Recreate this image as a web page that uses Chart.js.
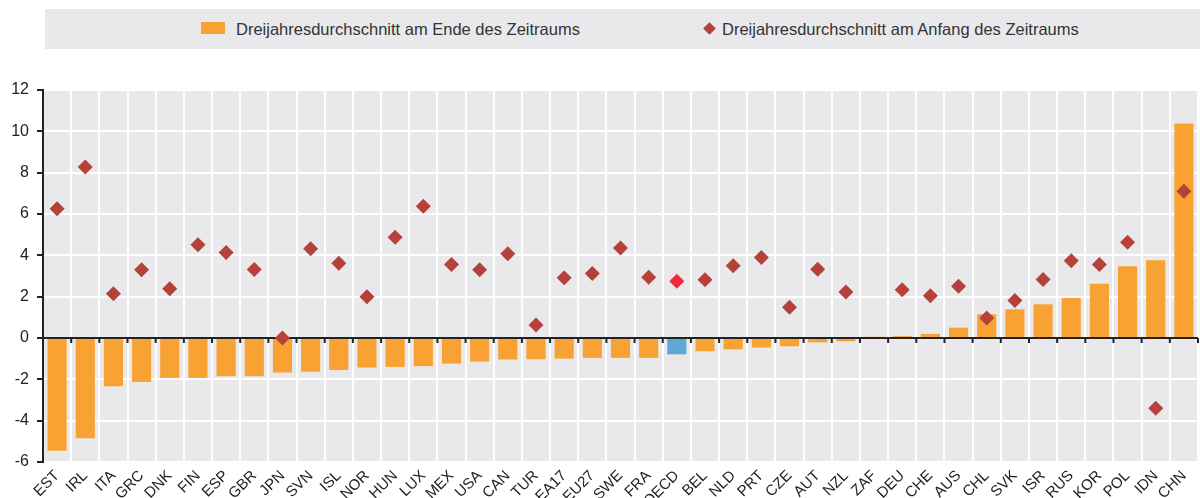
<!DOCTYPE html>
<html><head><meta charset="utf-8">
<script src="https://cdn.jsdelivr.net/npm/chart.js@4.4.1/dist/chart.umd.min.js"></script>
<style>
html,body{margin:0;padding:0;background:#fff;}
#wrap{position:relative;width:1200px;height:498px;overflow:hidden;}
#c{position:absolute;left:0;top:0;}
#legend{position:absolute;left:45px;top:9px;width:1155px;height:40px;background:#e9e9ec;font-family:"Liberation Sans",Arial,sans-serif;font-size:16.5px;color:#333;z-index:2;}
.item{position:absolute;top:0;height:40px;line-height:40px;white-space:nowrap;}
.sq{position:absolute;left:156px;top:13px;width:24px;height:12px;background:#f7a232;}
.dm{position:absolute;left:660px;top:15px;width:9px;height:9px;background:#b5413a;transform:rotate(45deg);}
</style>
</head><body>
<div id="wrap">
<canvas id="c" width="1200" height="498"></canvas>
<div id="legend">
  <div class="sq"></div><div class="item" style="left:191px">Dreijahresdurchschnitt am Ende des Zeitraums</div>
  <div class="dm"></div><div class="item" style="left:677px">Dreijahresdurchschnitt am Anfang des Zeitraums</div>
</div>
</div>
<script>
const categories = ["EST","IRL","ITA","GRC","DNK","FIN","ESP","GBR","JPN","SVN","ISL","NOR","HUN","LUX","MEX","USA","CAN","TUR","EA17","EU27","SWE","FRA","OECD","BEL","NLD","PRT","CZE","AUT","NZL","ZAF","DEU","CHE","AUS","CHL","SVK","ISR","RUS","KOR","POL","IDN","CHN"];
const endAverage = [-5.45,-4.85,-2.33,-2.13,-1.93,-1.93,-1.85,-1.85,-1.67,-1.63,-1.55,-1.43,-1.40,-1.36,-1.24,-1.14,-1.04,-1.03,-1.00,-0.96,-0.96,-0.96,-0.79,-0.64,-0.55,-0.46,-0.40,-0.21,-0.16,0.06,0.09,0.20,0.50,1.15,1.39,1.63,1.94,2.62,3.47,3.76,10.38];
const startAverage = [6.26,8.28,2.14,3.30,2.38,4.51,4.14,3.32,0.00,4.32,3.62,2.00,4.88,6.37,3.56,3.30,4.08,0.63,2.91,3.12,4.35,2.94,2.75,2.82,3.50,3.90,1.49,3.33,2.23,null,2.34,2.05,2.50,0.97,1.81,2.83,3.74,3.56,4.63,-3.40,7.10];
const yMin = -6, yMax = 12, yStep = 2;
const highlight = "OECD";

const barColors = categories.map(c => c === highlight ? "#5fa7d4" : "#f7a232");
const pointColors = categories.map(c => c === highlight ? "#ee2a38" : "#b5413a");
const FONT = '"Liberation Sans", Arial, sans-serif';

const bgPlugin = {
  id: "bg",
  beforeDraw(chart) {
    const {ctx, chartArea:a} = chart;
    ctx.save(); ctx.fillStyle = "#e9e9ec";
    ctx.fillRect(a.left, a.top, a.right - a.left, a.bottom - a.top);
    ctx.restore();
  },
  afterDraw(chart) {
    const {ctx} = chart;
    const x = chart.scales.x, y = chart.scales.y;
    const y0 = y.getPixelForValue(0);
    ctx.save(); ctx.strokeStyle = "#222"; ctx.lineWidth = 2;
    const n = categories.length;
    const step = x.getPixelForTick(1) - x.getPixelForTick(0);
    for (let i = 0; i <= n; i++) {
      const px = (i < n ? x.getPixelForTick(i) : x.getPixelForTick(n-1) + step) - step / 2;
      ctx.beginPath(); ctx.moveTo(px, y0); ctx.lineTo(px, y0 + 5); ctx.stroke();
    }
    ctx.restore();
  }
};

new Chart(document.getElementById("c"), {
  data: {
    labels: categories,
    datasets: [
      { type: "line", label: "Dreijahresdurchschnitt am Anfang des Zeitraums", data: startAverage,
        showLine: false, pointStyle: "rectRot", pointRadius: 7.5, pointBorderWidth: 0,
        pointBackgroundColor: pointColors, order: 0 },
      { type: "bar", label: "Dreijahresdurchschnitt am Ende des Zeitraums", data: endAverage,
        backgroundColor: barColors, borderWidth: 0, categoryPercentage: 1, barPercentage: 0.68, order: 1 }
    ]
  },
  options: {
    responsive: false, animation: false, devicePixelRatio: 1,
    layout: { autoPadding: false, padding: { top: 90, right: 2, left: 0, bottom: 0 } },
    plugins: { legend: { display: false }, tooltip: { enabled: false } },
    scales: {
      x: {
        offset: true,
        grid: { offset: true, color: "#ffffff", lineWidth: 2, drawTicks: false },
        border: { display: false },
        ticks: { autoSkip: false, maxRotation: 45, minRotation: 45, padding: 5,
          font: { family: FONT, size: 15 }, color: "#222" },
        afterFit(s) { s.height = 36; s.paddingLeft = 0; s.paddingRight = 0; }
      },
      y: {
        min: yMin, max: yMax,
        grid: { color: c => (c.tick && c.tick.value === 0) ? "#222" : "#ffffff", lineWidth: 2, tickColor: "#222", tickLength: 6 },
        border: { display: true, color: "#222", width: 2 },
        ticks: { stepSize: yStep, padding: 8, font: { family: FONT, size: 16 }, color: "#222" },
        afterFit(s) { s.width = 43; s.paddingTop = 0; s.paddingBottom = 0; }
      }
    }
  },
  plugins: [bgPlugin]
});
</script>
</body></html>
